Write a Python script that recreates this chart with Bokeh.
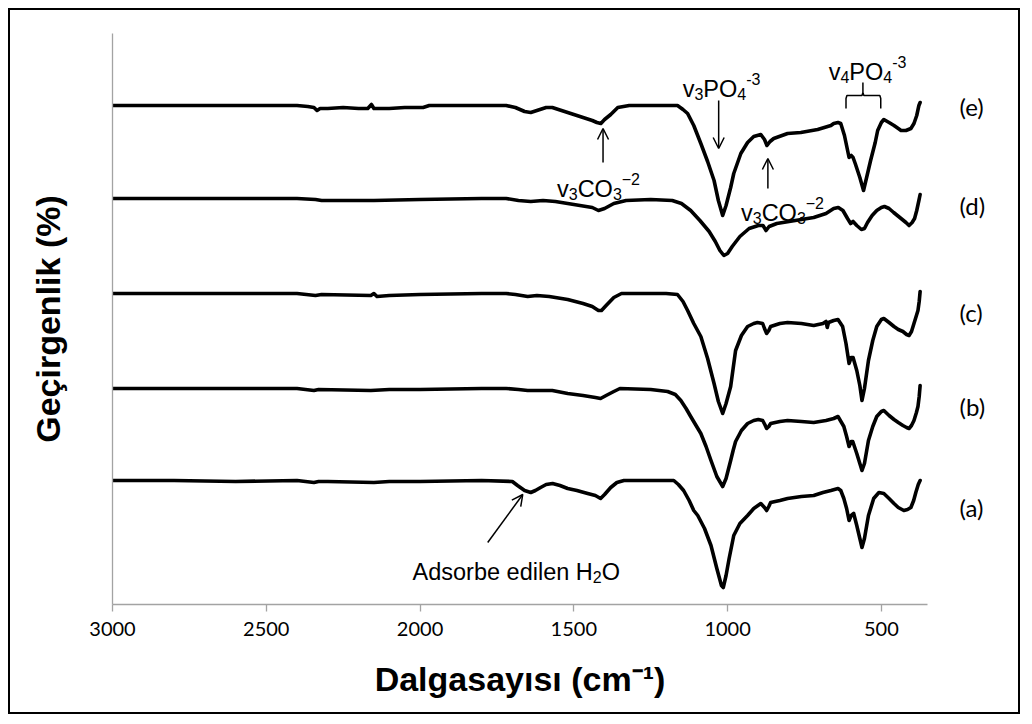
from bokeh.plotting import figure
from bokeh.models import Range1d, FixedTicker, Label, Arrow, OpenHead, LinearAxis
from bokeh.embed import file_html
from bokeh.resources import INLINE

# ---------------- data ----------------
# wavenumbers (cm-1) and drop of transmittance below each curve's baseline (arb. units)
wn_e = [3000, 2700, 2400, 2365, 2345, 2335, 2325, 2300, 2250, 2200, 2170, 2158, 2150, 2100, 2050, 1990, 1970, 1850,
        1720, 1690, 1660, 1640, 1620, 1590, 1570, 1540, 1500, 1470, 1440, 1425, 1412, 1400, 1380, 1357, 1320, 1200,
        1163, 1145, 1130, 1110, 1087, 1065, 1044, 1030, 1016, 1005, 990, 980, 957, 935, 915, 892, 880, 872, 862, 850,
        805, 762, 707, 664, 655, 641, 632, 620, 605, 598, 592, 585, 570, 558, 548, 535, 520, 512, 500, 492, 475, 459,
        445, 436, 420, 404, 394, 385, 378, 374]
drop_e = [0, 0, 0, 1, 2, 5, 3, 3, 2, 3, 3, -1, 3, 3, 2, 2, 0, 0,
          0, 2, 6, 7, 5, 2, 2, 5, 9, 12, 15, 17, 18, 14, 9, 2, 0, 0,
          0, 4, 8, 20, 38, 56, 75, 95, 110, 100, 82, 68, 48, 37, 31, 29, 34, 40, 36, 33,
          28, 27, 24, 20, 18, 17, 18, 30, 52, 50, 52, 58, 72, 85, 72, 55, 37, 25, 17, 14, 17, 20,
          23, 25, 25, 23, 18, 10, 0, -3]

wn_d = [3000, 2400, 2340, 2320, 2150, 2000, 1800, 1720, 1680, 1640, 1600, 1560, 1500, 1440, 1420, 1400, 1370, 1330,
        1250, 1180, 1150, 1120, 1090, 1060, 1040, 1025, 1012, 1000, 985, 960, 930, 900, 885, 875, 865, 840, 800, 760,
        720, 680, 655, 640, 625, 610, 600, 592, 580, 565, 555, 545, 530, 515, 500, 490, 475, 460, 440, 420, 410, 400,
        392, 385, 378, 374]
drop_d = [0, 0, 1, 2, 2, 1, 0, 0, 2, 3, 2, 3, 6, 9, 12, 10, 5, 2,
          1, 2, 5, 12, 22, 33, 43, 52, 57, 55, 48, 38, 30, 27, 27, 32, 28, 25, 23, 21,
          19, 15, 10, 9, 12, 20, 25, 23, 27, 31, 30, 24, 17, 12, 9, 8, 10, 14, 19, 24, 27, 24,
          20, 12, 2, -4]

wn_c = [3000, 2400, 2340, 2320, 2160, 2150, 2140, 2100, 2000, 1800, 1720, 1690, 1650, 1620, 1580, 1520, 1470, 1440,
        1420, 1410, 1395, 1370, 1345, 1200, 1163, 1145, 1130, 1110, 1087, 1065, 1044, 1030, 1016, 1005, 990, 982, 974,
        955, 935, 915, 903, 886, 880, 873, 866, 860, 830, 805, 760, 720, 690, 680, 676, 672, 655, 641, 626, 615, 605,
        598, 592, 580, 570, 563, 555, 542, 528, 515, 500, 492, 475, 459, 445, 430, 418, 410, 402, 394, 386, 381, 377,
        374]
drop_c = [0, 0, 2, 1, 2, 0, 3, 2, 1, 0, 0, 1, 3, 2, 3, 6, 10, 13,
          17, 17, 12, 4, 0, 0, 1, 8, 17, 30, 43, 65, 90, 108, 120, 110, 93, 75, 57,
          42, 33, 30, 29, 30, 35, 40, 37, 33, 30, 29, 30, 32, 30, 28, 34, 29, 27, 26, 33, 50, 70,
          64, 64, 77, 92, 107, 95, 67, 47, 33, 26, 25, 29, 33, 36, 38, 41, 42, 38, 30, 22, 17, 8,
          -2]

wn_b = [3000, 2400, 2345, 2330, 2160, 2100, 2000, 1800, 1720, 1680, 1650, 1610, 1570, 1520, 1470, 1430, 1413, 1395,
        1370, 1350, 1250, 1195, 1170, 1152, 1135, 1120, 1087, 1070, 1054, 1035, 1016, 1005, 990, 982, 974, 955, 935,
        915, 900, 886, 879, 873, 866, 860, 830, 805, 760, 720, 680, 655, 641, 622, 613, 605, 598, 593, 580, 570, 563,
        555, 542, 528, 515, 500, 492, 475, 459, 445, 430, 418, 410, 402, 394, 386, 381, 377, 374]
drop_b = [0, 0, 2, 1, 2, 1, 1, 0, 0, 1, 2, 2, 2, 5, 7, 9, 10, 7,
          3, 0, 1, 3, 6, 12, 20, 28, 45, 58, 72, 88, 98, 90, 72, 62, 53, 42, 35,
          32, 31, 32, 36, 40, 38, 35, 33, 32, 33, 34, 32, 30, 28, 38, 48, 58, 53, 53, 65, 75, 82,
          75, 52, 38, 28, 23, 22, 27, 31, 34, 37, 39, 40, 37, 32, 24, 18, 8, -3]

wn_a = [3000, 2800, 2600, 2400, 2345, 2330, 2300, 2150, 2100, 2000, 1800, 1700, 1683, 1660, 1640, 1625, 1608, 1590,
        1569, 1545, 1520, 1490, 1455, 1430, 1413, 1400, 1380, 1360, 1337, 1200, 1175, 1160, 1143, 1125, 1110, 1097,
        1075, 1054, 1035, 1020, 1014, 1005, 995, 980, 960, 935, 915, 892, 880, 873, 866, 860, 830, 805, 760, 720, 690,
        664, 641, 632, 622, 613, 605, 598, 590, 580, 570, 563, 555, 542, 525, 508, 492, 475, 459, 445, 427, 415, 404,
        395, 388, 380, 374]
drop_a = [0, 0, 1, 0, 2, 1, 1, 2, 1, 1, 0, 1, 5, 10, 12, 10, 7, 4,
          3, 5, 8, 10, 13, 15, 18, 14, 7, 2, 0, 0, 0, 4, 10, 20, 30, 35,
          48, 65, 88, 105, 107, 95, 78, 55, 43, 35, 28, 23, 27, 30, 26, 22, 20, 18, 16, 15, 12,
          10, 8, 10, 18, 28, 40, 35, 33, 45, 58, 67, 58, 35, 18, 12, 13, 18, 23, 27, 30, 29, 27,
          20, 12, 4, 0]

samples = ["(a)", "(b)", "(c)", "(d)", "(e)"]
baselines = [124, 216, 311, 406, 499]          # vertical stacking offset of each spectrum
sample_label_pos = [97, 198, 292, 399, 498]     # where each sample name sits on the right
series = [(wn_a, drop_a), (wn_b, drop_b), (wn_c, drop_c), (wn_d, drop_d), (wn_e, drop_e)]
x_ticks = [3000, 2500, 2000, 1500, 1000, 500]
x_title = "Dalgasay\u0131s\u0131 (cm\u207b\u00b9)"
y_title = "Ge\u00e7irgenlik (%)"

# ---------------- page geometry ----------------
CW, CH = 1012, 706          # canvas (inside the black page frame)
OFF = 10                    # canvas offset on the page (margin 8 + border 2)
FL, FR, FT, FB = 112, 927, 33, 604   # plot frame on the page

p = figure(width=CW, height=CH, output_backend="svg", toolbar_location=None,
           x_range=Range1d(3000, 350), y_range=Range1d(0, FB - FT),
           min_border_left=FL - OFF, min_border_right=CW - (FR - OFF),
           min_border_top=FT - OFF, min_border_bottom=CH - (FB - OFF))
p.styles = {"margin-left": "8px", "margin-top": "8px", "border": "2px solid black"}
p.background_fill_color = "white"
p.border_fill_color = "white"
p.outline_line_color = None
p.grid.visible = False

AX = "#a3a3a3"
p.xaxis.ticker = FixedTicker(ticks=x_ticks)
p.xaxis.axis_line_color = AX
p.xaxis.axis_line_width = 1.3
p.xaxis.major_tick_line_color = AX
p.xaxis.major_tick_line_width = 1.3
p.xaxis.major_tick_out = 7
p.xaxis.major_tick_in = 0
p.xaxis.minor_tick_line_color = None
p.xaxis.major_label_text_font = "Lato"
p.xaxis.major_label_text_font_size = "20px"
p.xaxis.major_label_text_color = "black"
p.xaxis.major_label_standoff = 10
p.xaxis.axis_label = x_title
p.xaxis.axis_label_text_font = "Liberation Sans"
p.xaxis.axis_label_text_font_size = "34px"
p.xaxis.axis_label_text_font_style = "bold"
p.xaxis.axis_label_text_color = "black"
p.xaxis.axis_label_standoff = 21

p.yaxis.ticker = FixedTicker(ticks=[])
p.yaxis.axis_line_color = AX
p.yaxis.axis_line_width = 1.3
p.yaxis.major_tick_line_color = None
p.yaxis.minor_tick_line_color = None
p.yaxis.major_label_text_font_size = "0px"
p.yaxis.axis_label = y_title
p.yaxis.axis_label_text_font = "Liberation Sans"
p.yaxis.axis_label_text_font_size = "34px"
p.yaxis.axis_label_text_font_style = "bold"
p.yaxis.axis_label_text_color = "black"
p.yaxis.axis_label_standoff = 46

# sample names on a right-hand axis
ry = LinearAxis(ticker=FixedTicker(ticks=sample_label_pos),
                major_label_overrides={v: s for v, s in zip(sample_label_pos, samples)},
                axis_line_color=None, major_tick_line_color=None, minor_tick_line_color=None,
                major_label_text_font="Lato", major_label_text_font_size="24px",
                major_label_text_color="black", major_label_standoff=26)
p.add_layout(ry, "right")

for (wn, drop), base in zip(series, baselines):
    ys = [base - d for d in drop]
    p.line(wn, ys, line_color="black", line_width=3.6, line_join="round", line_cap="round")

# ---------------- annotation text (page px -> frame-relative screen units) ----------------
AR = {' ': 278, 'v': 500, 'P': 667, 'O': 778, 'C': 722, 'H': 722, 'A': 667, 'd': 556, 's': 500, 'o': 556,
      'r': 333, 'b': 556, 'e': 556, 'i': 222, 'l': 222, 'n': 556, '-': 333, '\u2212': 584}


def tw(s, size):
    return sum(AR.get(ch, 556) for ch in s) * size / 1000.0


def put(X, Y, text, **kw):
    p.add_layout(Label(x=X - FL, y=FB - Y, x_units="screen", y_units="screen", text=text,
                       text_color="black", **kw))


def rich(segs, X, Ybase, size, align="center", small_ratio=0.68):
    small = size * small_ratio
    total = sum(tw(t, size if k == "n" else small) for t, k in segs)
    cx = X - total / 2 if align == "center" else X
    for t, k in segs:
        fs = size if k == "n" else small
        dy = 0 if k == "n" else (size * 0.22 if k == "sub" else -size * 0.40)
        put(cx, Ybase + dy, t, text_font="Liberation Sans", text_font_size=f"{fs:.1f}px",
            text_baseline="alphabetic", text_align="left")
        cx += tw(t, fs)


FS = 23.5
rich([("v", "n"), ("3", "sub"), ("CO", "n"), ("3", "sub"), ("\u22122", "sup")], 598, 188, FS)
rich([("v", "n"), ("3", "sub"), ("PO", "n"), ("4", "sub"), ("-3", "sup")], 721, 88, FS)
rich([("v", "n"), ("3", "sub"), ("CO", "n"), ("3", "sub"), ("\u22122", "sup")], 782, 212, FS)
rich([("v", "n"), ("4", "sub"), ("PO", "n"), ("4", "sub"), ("-3", "sup")], 867, 71, FS)
rich([("Adsorbe edilen H", "n"), ("2", "sub"), ("O", "n")], 412, 571, FS, align="left")

# arrows (data units: wavenumber, stacked transmittance)
arrows = [(1405, 442, 1405, 476), (1029, 504, 1029, 456), (869, 416, 869, 446), (1780, 62, 1666, 110)]
for xs, ys, xe, ye in arrows:
    p.add_layout(Arrow(x_start=xs, y_start=ys, x_end=xe, y_end=ye, line_color="black", line_width=1.5,
                       end=OpenHead(size=11, line_color="black", line_width=1.5)))

# v4 bracket
bx = [615, 615, 612, 563, 560, 560, 560, 557, 505, 502, 502]
by = [496, 506, 509, 509, 512, 522, 512, 509, 509, 506, 496]
p.line(bx, by, line_color="black", line_width=1.5)

open("out.html", "w").write(file_html(p, INLINE))
